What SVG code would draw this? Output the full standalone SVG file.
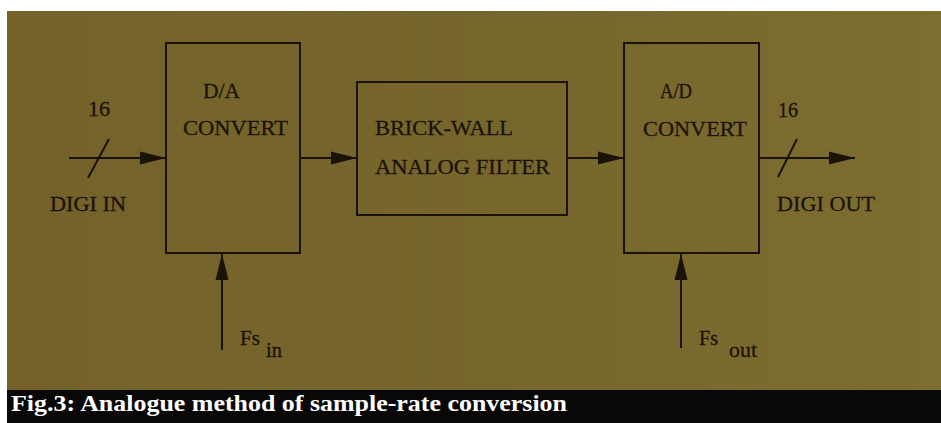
<svg xmlns="http://www.w3.org/2000/svg" width="941" height="423" viewBox="0 0 941 423">
<defs>
<linearGradient id="bg" x1="0" y1="0" x2="1" y2="0">
<stop offset="0" stop-color="#74622a"/>
<stop offset="0.5" stop-color="#77662c"/>
<stop offset="1" stop-color="#7e6d30"/>
</linearGradient>
<marker id="ah" markerUnits="userSpaceOnUse" markerWidth="27" markerHeight="14" refX="26" refY="7" orient="auto">
<path d="M0,0.5 L26,7 L0,13.5 z" fill="#1a1408"/>
</marker>
<style>
.box{fill:none;stroke:#1a1408;stroke-width:2}
.ln{fill:none;stroke:#1a1408;stroke-width:2}
.t{font-family:"Liberation Serif","Times New Roman",serif;font-size:22px;fill:#1a1408;stroke:#1a1408;stroke-width:0.3}
.cap{font-family:"Liberation Serif","Times New Roman",serif;font-size:23px;font-weight:bold;fill:#ffffff}
</style>
</defs>
<rect x="0" y="0" width="941" height="423" fill="#ffffff"/>
<rect x="7" y="11" width="934" height="379" fill="url(#bg)"/>
<rect x="7" y="390" width="934" height="33" fill="#0a0806"/>
<text class="cap" x="11" y="411" textLength="556" lengthAdjust="spacingAndGlyphs">Fig.3: Analogue method of sample-rate conversion</text>

<g id="connectors">
<line class="ln" x1="69" y1="158" x2="166" y2="158" marker-end="url(#ah)"/>
<line class="ln" x1="88" y1="178" x2="109" y2="139"/>
<line class="ln" x1="300" y1="158" x2="357" y2="158" marker-end="url(#ah)"/>
<line class="ln" x1="567" y1="158" x2="624" y2="158" marker-end="url(#ah)"/>
<line class="ln" x1="759" y1="158" x2="855" y2="158" marker-end="url(#ah)"/>
<line class="ln" x1="778" y1="177" x2="797" y2="139"/>
<line class="ln" x1="222" y1="350" x2="222" y2="254" marker-end="url(#ah)"/>
<line class="ln" x1="681" y1="348" x2="681" y2="254" marker-end="url(#ah)"/>
</g>

<g id="digi-in">
<text class="t" x="88" y="116" textLength="22" lengthAdjust="spacingAndGlyphs">16</text>
<text class="t" x="50" y="211" textLength="76" lengthAdjust="spacingAndGlyphs">DIGI IN</text>
</g>

<g id="da-convert">
<rect class="box" x="166" y="43" width="134" height="210"/>
<text class="t" x="203" y="98" textLength="37" lengthAdjust="spacingAndGlyphs">D/A</text>
<text class="t" x="183" y="135" textLength="105" lengthAdjust="spacingAndGlyphs">CONVERT</text>
</g>

<g id="filter">
<rect class="box" x="357" y="82" width="210" height="133"/>
<text class="t" x="375" y="135" textLength="138" lengthAdjust="spacingAndGlyphs">BRICK-WALL</text>
<text class="t" x="375" y="174" textLength="175" lengthAdjust="spacingAndGlyphs">ANALOG FILTER</text>
</g>

<g id="ad-convert">
<rect class="box" x="624" y="43" width="135" height="210"/>
<text class="t" x="660" y="98" textLength="32" lengthAdjust="spacingAndGlyphs">A/D</text>
<text class="t" x="643" y="136" textLength="104" lengthAdjust="spacingAndGlyphs">CONVERT</text>
</g>

<g id="digi-out">
<text class="t" x="778" y="117" textLength="20" lengthAdjust="spacingAndGlyphs">16</text>
<text class="t" x="777" y="211" textLength="98" lengthAdjust="spacingAndGlyphs">DIGI OUT</text>
</g>

<g id="fs-in">
<text class="t" x="240" y="345" textLength="20" lengthAdjust="spacingAndGlyphs">Fs</text>
<text class="t" x="266" y="357" textLength="16" lengthAdjust="spacingAndGlyphs">in</text>
</g>

<g id="fs-out">
<text class="t" x="699" y="345" textLength="19" lengthAdjust="spacingAndGlyphs">Fs</text>
<text class="t" x="729" y="357" textLength="28" lengthAdjust="spacingAndGlyphs">out</text>
</g>
</svg>
